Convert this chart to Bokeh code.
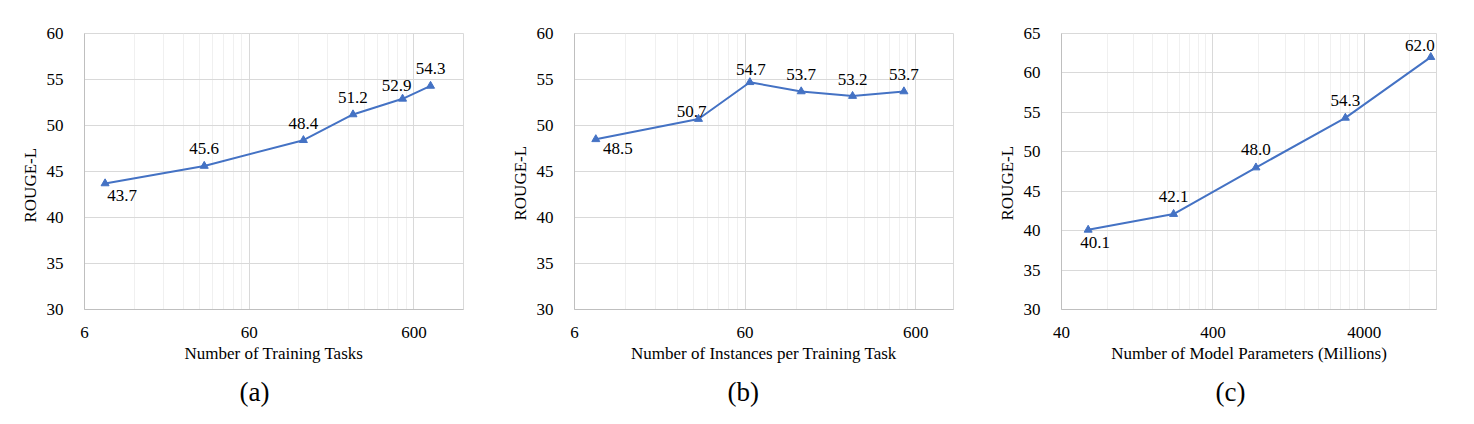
from bokeh.plotting import figure
from bokeh.layouts import row
from bokeh.models import (FixedTicker, LabelSet, ColumnDataSource, Range1d,
                          NumeralTickFormatter, Title)
from bokeh.core.properties import value
from bokeh.embed import file_html
from bokeh.resources import INLINE

# ---------------- data ----------------
tasks_x = [8, 32, 128, 256, 512, 757]
tasks_y = [43.7, 45.6, 48.4, 51.2, 52.9, 54.3]

inst_x = [8, 32, 64, 128, 256, 512]
inst_y = [48.5, 50.7, 54.7, 53.7, 53.2, 53.7]

params_x = [60, 220, 770, 3000, 11000]
params_y = [40.1, 42.1, 48.0, 54.3, 62.0]

xticks_a = [6, 60, 600]
xticks_b = [6, 60, 600]
xticks_c = [40, 400, 4000]

xlabel_a = "Number of Training Tasks"
xlabel_b = "Number of Instances per Training Task"
xlabel_c = "Number of Model Parameters (Millions)"
ylabel = "ROUGE-L"

# label offsets (pixels, dx right, dy up)
offs_a = [(17, -12), (0, 17), (0, 17), (0, 17), (-6, 13), (0, 17)]
offs_b = [(22, -9), (-7, 8), (1, 13), (0, 17), (0, 17), (0, 17)]
offs_c = [(7, -13), (0, 18), (0, 18), (0, 17), (-11, 12)]

FONT = "Liberation Serif"
BLUE = "#4472C4"


def minor_list(base, xmax):
    out = []
    d = base
    while d <= xmax:
        for k in range(2, 10):
            v = d * k
            if v <= xmax * 1.0001:
                out.append(v)
        d *= 10
    return out


def panel(width, bl, br, xs, ys, xr, yr, xticks, xlabel, offs, tag, tag_off, ylab_off):
    p = figure(width=width, height=420, x_axis_type="log",
               x_range=Range1d(*xr), y_range=Range1d(*yr),
               output_backend="svg", toolbar_location=None,
               min_border_left=bl, min_border_right=br,
               min_border_top=33, min_border_bottom=111)
    p.outline_line_color = "#d9d9d9"
    p.background_fill_color = "white"
    p.border_fill_color = "white"

    p.xaxis.ticker = FixedTicker(ticks=xticks, minor_ticks=minor_list(xticks[0], xr[1]))
    p.xaxis.formatter = NumeralTickFormatter(format="0")
    p.yaxis.ticker = FixedTicker(ticks=list(range(int(yr[0]), int(yr[1]) + 1, 5)))

    p.xgrid.grid_line_color = "#d9d9d9"
    p.xgrid.minor_grid_line_color = "#f0f0f0"
    p.ygrid.grid_line_color = "#d9d9d9"

    for ax in (p.xaxis, p.yaxis):
        ax.major_tick_line_color = None
        ax.minor_tick_line_color = None
        ax.axis_line_color = "#bfbfbf"
        ax.major_label_text_font = FONT
        ax.major_label_text_font_style = "normal"
        ax.major_label_text_font_size = "17px"
        ax.major_label_text_color = "#000000"
    p.yaxis.major_label_standoff = 15
    p.xaxis.major_label_standoff = 11

    p.xaxis.axis_label = xlabel
    p.xaxis.axis_label_text_font = FONT
    p.xaxis.axis_label_text_font_size = "17px"
    p.xaxis.axis_label_text_font_style = "normal"
    p.xaxis.axis_label_text_color = "#000000"
    p.xaxis.axis_label_standoff = 3

    p.line(xs, ys, line_color=BLUE, line_width=2)
    p.scatter(xs, ys, marker="triangle", size=8, fill_color=BLUE, line_color=BLUE)

    src = ColumnDataSource(dict(x=xs, y=ys, t=[f"{v:.1f}" for v in ys],
                                dx=[o[0] for o in offs], dy=[o[1] for o in offs]))
    p.add_layout(LabelSet(x="x", y="y", text="t", x_offset="dx", y_offset="dy",
                          source=src, text_align="center", text_baseline="middle",
                          text_font=value(FONT), text_font_size=value("17px"),
                          text_font_style=value("normal"),
                          text_color="#000000"))

    p.add_layout(Title(text=ylabel, align="left", offset=ylab_off, text_font=FONT,
                       text_font_size="17px", text_font_style="normal",
                       text_color="#000000", standoff=8), "left")
    p.add_layout(Title(text=tag, align="left", offset=tag_off, text_font=FONT,
                       text_font_size="27px", text_font_style="normal",
                       text_color="#000000", standoff=19), "below")
    return p


pa = panel(490, 84, 27, tasks_x, tasks_y, (6, 1200), (30, 60), xticks_a, xlabel_a,
           offs_a, "(a)", 155, 87)
pb = panel(490, 84, 27, inst_x, inst_y, (6, 1000), (30, 60), xticks_b, xlabel_b,
           offs_b, "(b)", 153, 89)
pc = panel(490, 81, 34, params_x, params_y, (40, 12000), (30, 65), xticks_c, xlabel_c,
           offs_c, "(c)", 154, 89)

layout = row(pa, pb, pc)
open("out.html", "w").write(file_html(layout, INLINE))
